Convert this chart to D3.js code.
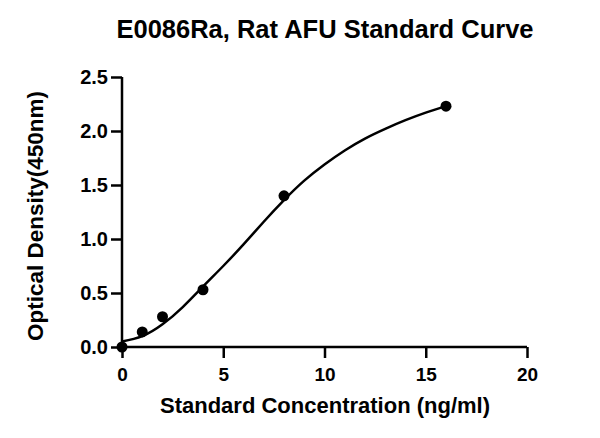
<!DOCTYPE html>
<html><head><meta charset="utf-8">
<script src="https://cdn.jsdelivr.net/npm/d3@7"></script>
<style>body{margin:0;background:#fff}svg{display:block}text{font-family:"Liberation Sans",Arial,sans-serif;font-weight:bold;fill:#000}</style>
</head><body>
<script>
const concentrations = [0, 1, 2, 4, 8, 16];
const odValues = [0.0, 0.14, 0.28, 0.53, 1.40, 2.23];
const curveX = [0, 1, 2, 3, 4, 5, 6, 7, 8, 9, 10, 11, 12, 13, 14, 15, 16];
const curveY = [0.05, 0.10, 0.21, 0.37, 0.56, 0.75, 0.95, 1.16, 1.36, 1.54, 1.69, 1.82, 1.93, 2.02, 2.10, 2.17, 2.23];
const xTicks = [0, 5, 10, 15, 20];
const yTicks = [0, 0.5, 1.0, 1.5, 2.0, 2.5];

const W = 600, H = 438;
const svg = d3.select("body").append("svg").attr("width", W).attr("height", H);
const x = d3.scaleLinear().domain([0, 20]).range([122, 527]);
const y = d3.scaleLinear().domain([0, 2.5]).range([347, 77]);

const xAxis = svg.append("g").attr("transform", "translate(0,347)")
  .call(d3.axisBottom(x).tickValues(xTicks).tickSize(11).tickPadding(10).tickFormat(d3.format("d")));
const yAxis = svg.append("g").attr("transform", "translate(122,0)")
  .call(d3.axisLeft(y).tickValues(yTicks).tickSize(11).tickPadding(3).tickFormat(d3.format(".1f")));
[xAxis, yAxis].forEach(g => {
  g.select(".domain").attr("stroke", "#000").attr("stroke-width", 2.5);
  g.selectAll(".tick line").attr("stroke", "#000").attr("stroke-width", 2.5);
  g.selectAll(".tick text").style("font-weight", "bold").attr("fill", "#000");
});
xAxis.selectAll(".tick text").style("font-size", "19px");
yAxis.selectAll(".tick text").style("font-size", "20px");
yAxis.select(".domain").attr("d", "M0,348V77");
xAxis.select(".domain").attr("d", "M121,0H527");

const line = d3.line().x(d => x(d[0])).y(d => y(d[1])).curve(d3.curveNatural);
svg.append("path").datum(d3.zip(curveX, curveY)).attr("d", line)
  .attr("fill", "none").attr("stroke", "#000").attr("stroke-width", 2.5);

svg.selectAll("circle.pt").data(d3.zip(concentrations, odValues)).join("circle")
  .attr("class", "pt").attr("cx", d => x(d[0])).attr("cy", d => y(d[1])).attr("r", 5.5).attr("fill", "#000");

svg.append("text").attr("x", 325).attr("y", 38).attr("text-anchor", "middle")
  .style("font-size", "25.5px").text("E0086Ra, Rat AFU Standard Curve");
svg.append("text").attr("x", 325).attr("y", 413).attr("text-anchor", "middle")
  .style("font-size", "22px").text("Standard Concentration (ng/ml)");
svg.append("text").attr("transform", "translate(43,216) rotate(-90)").attr("text-anchor", "middle")
  .style("font-size", "22.5px").text("Optical Density(450nm)");
</script>
</body></html>
